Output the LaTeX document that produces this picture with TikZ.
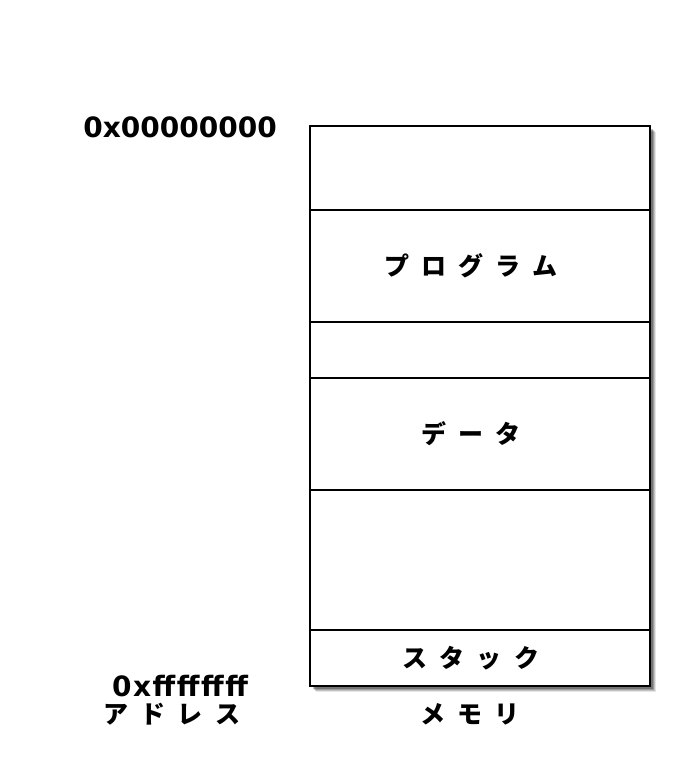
\documentclass[tikz,border=0pt]{standalone}
\usepackage{fontspec}
\setmainfont{DejaVu Sans}[Kerning=Off]
\newfontfamily\jp{Noto Sans CJK JP}[WordSpace=2.1]
\begin{document}
\begin{tikzpicture}[x=1bp,y=-1bp,
  seg/.style={draw=black,line width=1.5bp,fill=white,minimum width=340bp,inner sep=0pt,outer sep=0pt},
  hexlbl/.style={font=\fontsize{28bp}{30bp}\selectfont\bfseries,inner sep=0pt},
  jplbl/.style={font=\jp\fontsize{25bp}{28bp}\selectfont\bfseries,inner sep=0pt}]
\useasboundingbox[fill=white] (0,0) rectangle (700,784);
% shadow
\foreach \o/\a in {6/0.10,5/0.15,4/0.2,3/0.25}{
  \fill[black,opacity=\a] (310+\o,126+\o) rectangle (650+\o,686+\o);
}
\fill[white] (310,126) rectangle (650,686);
\node[seg,minimum height=84bp]  (s1) at (480,168) {};
\node[seg,minimum height=112bp] (s2) at (480,266) {};
\node[seg,minimum height=56bp]  (s3) at (480,350) {};
\node[seg,minimum height=112bp] (s4) at (480,434) {};
\node[seg,minimum height=140bp] (s5) at (480,560) {};
\node[seg,minimum height=56bp]  (s6) at (480,658) {};
\node[jplbl] (prog) at ([xshift=-9bp]s2.center) {プ ロ グ ラ ム};
\node[jplbl] (data) at ([xshift=-9bp]s4.center) {デ ー タ};
\node[jplbl] (stack) at ([xshift=-9bp]s6.center) {ス タ ッ ク};
\node[jplbl] (mem) at (470,714) {メ モ リ};
\node[hexlbl] (top) at (180,127) {0x00000000};
\node[hexlbl,font=\addfontfeatures{LetterSpace=5.5}\fontsize{28bp}{30bp}\selectfont\bfseries] (bot) at (180,686) {0xffffffff};
\node[jplbl] (addr) at (172,714) {ア ド レ ス};
\end{tikzpicture}
\end{document}
